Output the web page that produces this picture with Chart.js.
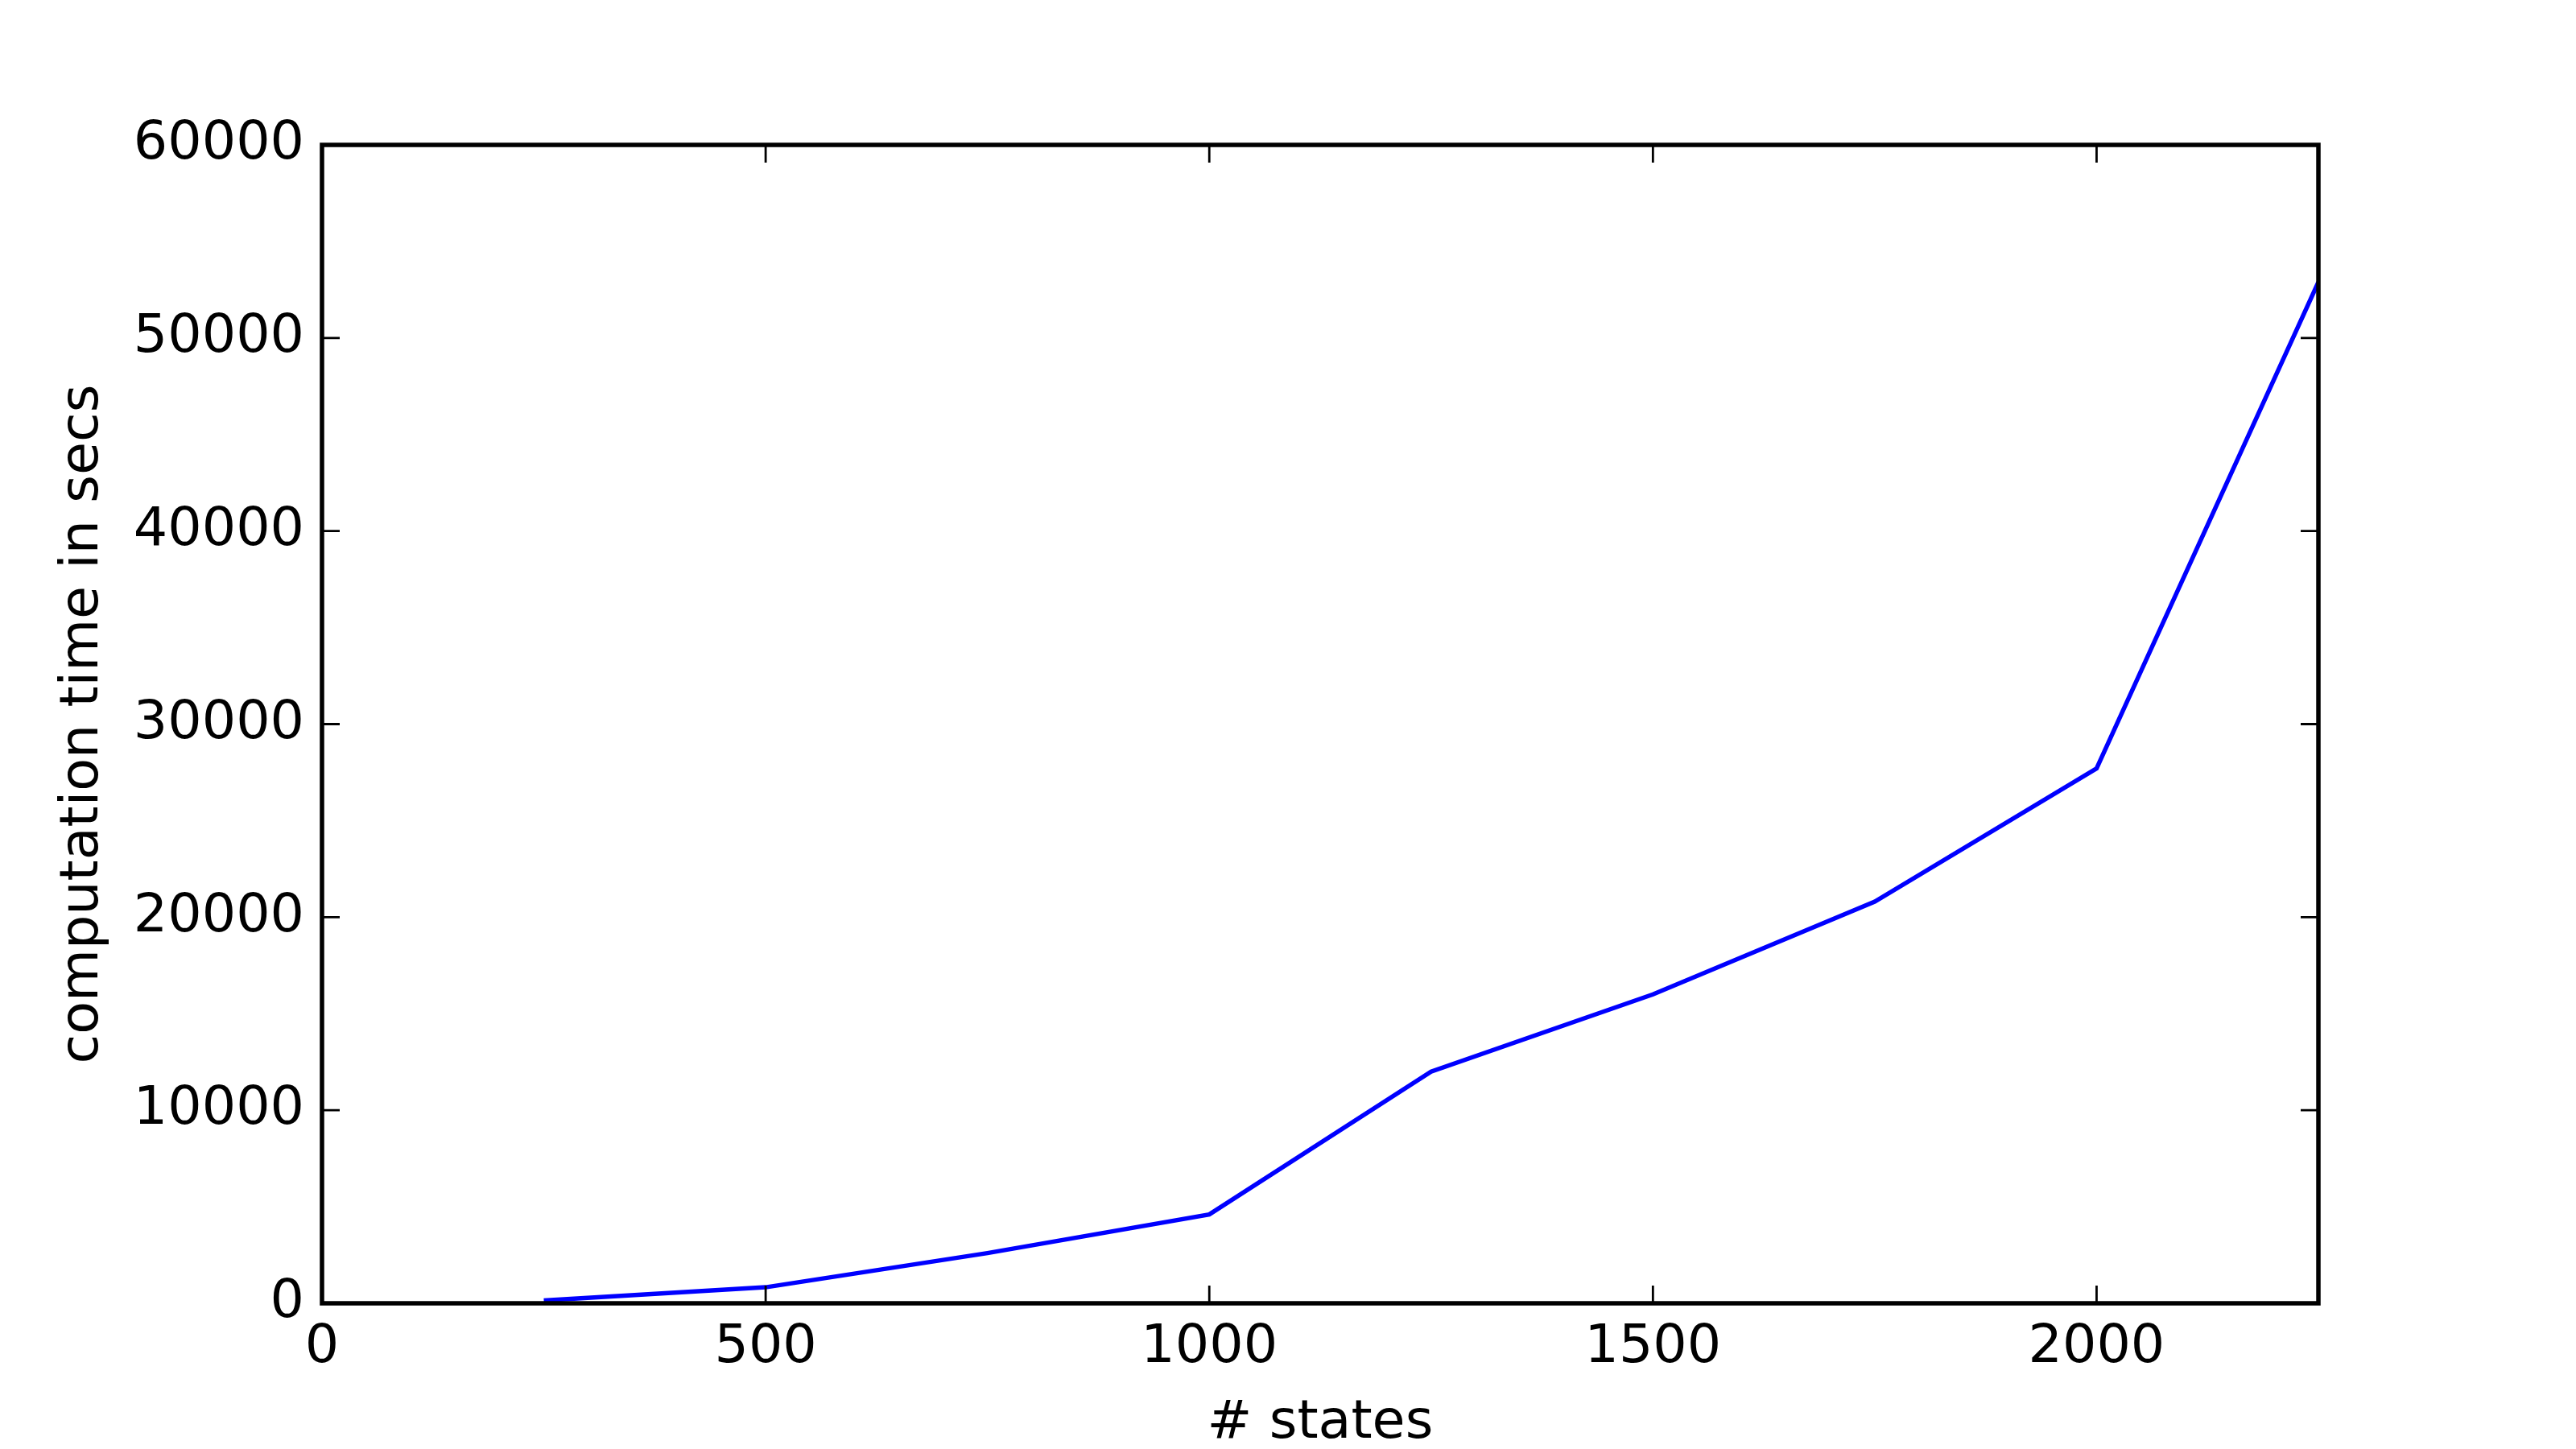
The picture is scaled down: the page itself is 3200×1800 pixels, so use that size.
<!DOCTYPE html>
<html>
<head>
<meta charset="utf-8">
<script src="https://cdn.jsdelivr.net/npm/chart.js@4.4.0/dist/chart.umd.min.js"></script>
<style>
  html, body { margin: 0; padding: 0; background: #fff; }
  canvas { display: block; }
</style>
</head>
<body>
<canvas id="timeChart" width="3200" height="1800"></canvas>
<script>
// data
const states = [250, 500, 750, 1000, 1250, 1500, 1750, 2000, 2250];
const seconds = [150, 830, 2600, 4600, 12000, 16000, 20800, 27700, 52900];
const xTicks = [0, 500, 1000, 1500, 2000];
const yTicks = [0, 10000, 20000, 30000, 40000, 50000, 60000];

const fontSize = 66.7;

// matplotlib-style frame with inward ticks on all four sides
const framePlugin = {
    id: 'frame',
    afterDatasetsDraw(chart) {
        const ctx = chart.ctx;
        const area = chart.chartArea;
        const xs = chart.scales.x;
        const ys = chart.scales.y;
        const tickLen = 22;
        ctx.save();
        ctx.strokeStyle = '#000';
        ctx.lineWidth = 2.8;
        ctx.beginPath();
        xTicks.forEach(function(v) {
            const px = xs.getPixelForValue(v);
            ctx.moveTo(px, area.bottom);
            ctx.lineTo(px, area.bottom - tickLen);
            ctx.moveTo(px, area.top);
            ctx.lineTo(px, area.top + tickLen);
        });
        yTicks.forEach(function(v) {
            const py = ys.getPixelForValue(v);
            ctx.moveTo(area.left, py);
            ctx.lineTo(area.left + tickLen, py);
            ctx.moveTo(area.right, py);
            ctx.lineTo(area.right - tickLen, py);
        });
        ctx.stroke();
        ctx.lineWidth = 5.5;
        ctx.strokeRect(area.left, area.top, area.right - area.left, area.bottom - area.top);
        ctx.restore();
    }
};

Chart.defaults.font.family = '"DejaVu Sans", sans-serif';
Chart.defaults.font.size = fontSize;
Chart.defaults.color = '#000';

const ctx = document.getElementById('timeChart').getContext('2d');
new Chart(ctx, {
    type: 'line',
    data: {
        datasets: [{
            data: states.map(function(s, i) { return { x: s, y: seconds[i] }; }),
            borderColor: '#0000ff',
            borderWidth: 5.5,
            pointRadius: 0,
            tension: 0,
            fill: false
        }]
    },
    options: {
        responsive: false,
        animation: false,
        devicePixelRatio: 1,
        layout: { padding: { left: 0, right: 320, top: 180, bottom: 0 } },
        plugins: {
            legend: { display: false },
            tooltip: { enabled: false }
        },
        scales: {
            x: {
                type: 'linear',
                min: 0,
                max: 2250,
                grid: { display: false },
                border: { display: false },
                afterFit: function(scale) { scale.height = 181; },
                afterBuildTicks: function(scale) {
                    scale.ticks = xTicks.map(function(v) { return { value: v }; });
                },
                ticks: {
                    padding: 8,
                    maxRotation: 0,
                    callback: function(v) { return String(v); }
                },
                title: {
                    display: true,
                    text: '# states',
                    font: { lineHeight: 1.0 },
                    padding: { top: 0, bottom: -2 }
                }
            },
            y: {
                min: 0,
                max: 60000,
                grid: { display: false },
                border: { display: false },
                afterFit: function(scale) { scale.width = 400; },
                afterBuildTicks: function(scale) {
                    scale.ticks = yTicks.map(function(v) { return { value: v }; });
                },
                ticks: {
                    padding: 14,
                    callback: function(v) { return String(v); }
                },
                title: {
                    display: true,
                    text: 'computation time in secs',
                    padding: { top: 64, bottom: 0 }
                }
            }
        }
    },
    plugins: [framePlugin]
});
</script>
</body>
</html>
